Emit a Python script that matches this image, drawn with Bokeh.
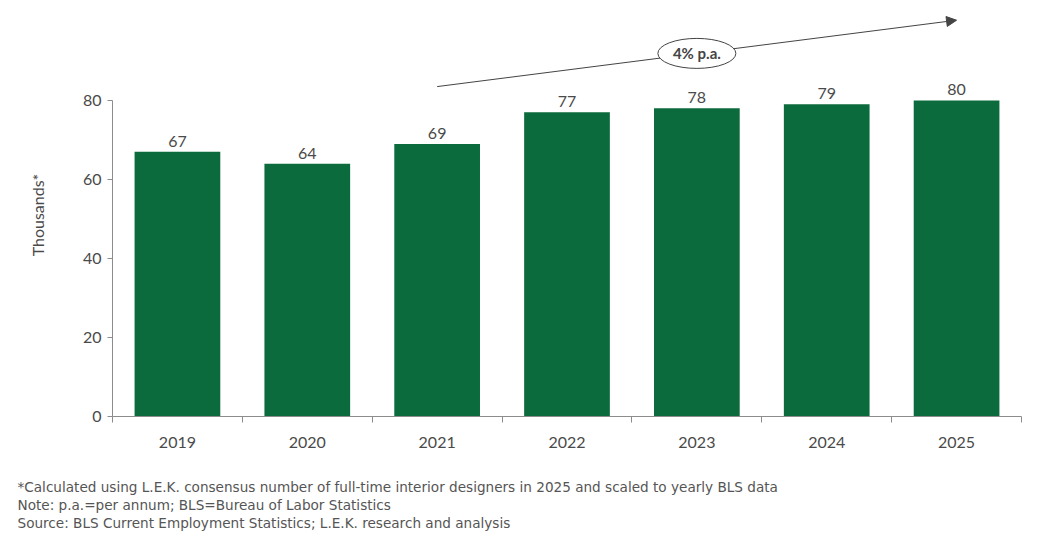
from bokeh.plotting import figure
from bokeh.models import (ColumnDataSource, FixedTicker, Range1d, Title, Arrow,
                          NormalHead, Label, LabelSet)
from bokeh.core.properties import value
from bokeh.embed import file_html
from bokeh.resources import INLINE

years = ["2019", "2020", "2021", "2022", "2023", "2024", "2025"]
values = [67, 64, 69, 77, 78, 79, 80]
y_ticks = [0, 20, 40, 60, 80]
cagr_label = "4% p.a."
footnotes = [
    "*Calculated using L.E.K. consensus number of full-time interior designers in 2025 and scaled to yearly BLS data",
    "Note: p.a.=per annum; BLS=Bureau of Labor Statistics",
    "Source: BLS Current Employment Statistics; L.E.K. research and analysis",
]

GREEN = "#0b6b3d"
TEXT = "#4a4a4a"
AXIS = "#8c8c8c"
FONT = "Lato"

xs = [i + 0.5 for i in range(len(years))]
src = ColumnDataSource(dict(x=xs, top=values, lab=[str(v) for v in values]))

p = figure(width=1040, height=541, output_backend="svg", toolbar_location=None,
           x_range=Range1d(0, len(years)), y_range=Range1d(0, 102),
           min_border_left=112, min_border_right=19, min_border_top=13,
           min_border_bottom=125)
p.outline_line_color = None
p.grid.visible = False
p.background_fill_color = "white"

p.vbar(x="x", top="top", width=0.66, source=src, fill_color=GREEN, line_color=None)

p.add_layout(LabelSet(x="x", y="top", text="lab", source=src, text_align="center",
                      text_baseline="bottom", y_offset=5, text_font_size=value("16px"),
                      text_color=value(TEXT), text_font=value(FONT)))

# x axis
p.xaxis.ticker = FixedTicker(ticks=xs, minor_ticks=list(range(len(years) + 1)))
p.xaxis.major_label_overrides = {x: y for x, y in zip(xs, years)}
p.xaxis.major_tick_out = 0
p.xaxis.major_tick_in = 0
p.xaxis.minor_tick_out = 6
p.xaxis.minor_tick_in = 0
p.xaxis.minor_tick_line_color = AXIS
p.xaxis.axis_line_color = AXIS
p.xaxis.major_label_standoff = 14
p.xaxis.major_label_text_font_size = "16px"
p.xaxis.major_label_text_color = TEXT
p.xaxis.major_label_text_font = FONT

# y axis
p.yaxis.ticker = FixedTicker(ticks=y_ticks)
p.yaxis.bounds = (0, 80)
p.yaxis.minor_tick_line_color = None
p.yaxis.major_tick_out = 5
p.yaxis.major_tick_in = 0
p.yaxis.major_tick_line_color = AXIS
p.yaxis.axis_line_color = AXIS
p.yaxis.major_label_standoff = 6
p.yaxis.major_label_text_font_size = "16px"
p.yaxis.major_label_text_color = TEXT
p.yaxis.major_label_text_font = FONT
p.yaxis.axis_label = "Thousands*"
p.yaxis.axis_label_text_font_size = "16px"
p.yaxis.axis_label_text_font_style = "normal"
p.yaxis.axis_label_text_color = TEXT
p.yaxis.axis_label_text_font = FONT
p.yaxis.axis_label_standoff = 33

# growth arrow and label
arrow = Arrow(x_start=2.5, y_start=83.5, x_end=6.5, y_end=100.3,
              line_color="#444444", line_width=1,
              end=NormalHead(size=10, fill_color="#444444", line_color="#444444"),
              level="underlay")
p.add_layout(arrow)
p.ellipse(x=[4.5], y=[91.9], width=78, height=30, width_units="screen",
          height_units="screen", fill_color="white", line_color="#444444", line_width=1)
p.add_layout(Label(x=4.5, y=91.9, text=cagr_label, text_align="center",
                   text_baseline="middle", text_font_size="15px", text_font_style="bold",
                   text_color="#444444", text_font=FONT))

# spacer between axis and footnotes
p.add_layout(Title(text=" ", text_font_size="13px", standoff=9), "below")
for t in footnotes:
    p.add_layout(Title(text=t, align="left", offset=-95, text_font_size="13.6px",
                       text_font_style="normal", text_color="#555555", text_font="DejaVu Sans",
                       standoff=0), "below")

open("out.html", "w").write(file_html(p, INLINE))
